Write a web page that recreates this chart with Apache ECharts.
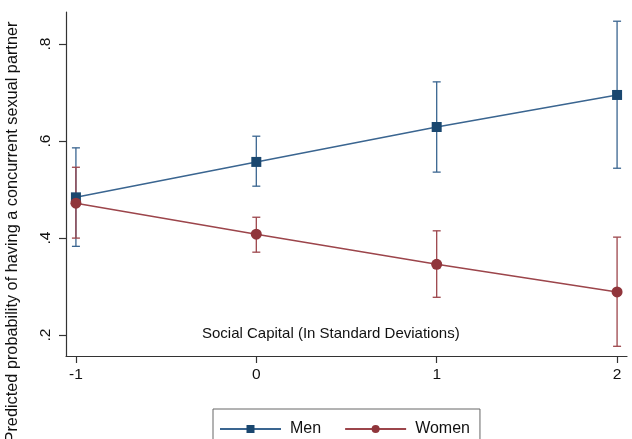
<!DOCTYPE html>
<html><head><meta charset="utf-8">
<script src="https://cdn.jsdelivr.net/npm/echarts@6/dist/echarts.min.js"></script>
<style>html,body{margin:0;padding:0;background:#fff}#c{width:632px;height:439px}</style>
</head><body><div id="c"></div>
<script>
const xValues = [-1, 0, 1, 2];
const menMean = [0.484, 0.557, 0.629, 0.695];
const menLow  = [0.383, 0.507, 0.536, 0.544];
const menHigh = [0.586, 0.610, 0.722, 0.847];
const womenMean = [0.472, 0.408, 0.346, 0.289];
const womenLow  = [0.400, 0.371, 0.278, 0.177];
const womenHigh = [0.546, 0.443, 0.415, 0.402];
const yTicks = [0.2, 0.4, 0.6, 0.8];
const xTicks = [-1, 0, 1, 2];

const NAVY = '#1a476f', NAVY_L = '#3a6590';
const MAROON = '#90353b', MAROON_L = '#9c454b';
const FONT = 'Liberation Sans, Arial, sans-serif';

function errSeries(name, low, high, color) {
  return {
    name: name, type: 'custom', silent: true, z: 2,
    data: xValues.map((x, i) => [x, low[i], high[i]]),
    renderItem: function (params, api) {
      const lo = api.coord([api.value(0), api.value(1)]);
      const hi = api.coord([api.value(0), api.value(2)]);
      const w = 4;
      const st = { stroke: color, lineWidth: 1.3 };
      return { type: 'group', children: [
        { type: 'line', shape: { x1: lo[0], y1: lo[1], x2: hi[0], y2: hi[1] }, style: st },
        { type: 'line', shape: { x1: lo[0] - w, y1: lo[1], x2: lo[0] + w, y2: lo[1] }, style: st },
        { type: 'line', shape: { x1: hi[0] - w, y1: hi[1], x2: hi[0] + w, y2: hi[1] }, style: st }
      ]};
    }
  };
}

const chart = echarts.init(document.getElementById('c'));
chart.setOption({
  backgroundColor: '#fff',
  animation: false,
  textStyle: { fontFamily: FONT },
  grid: { left: 66, right: 5, top: 12, bottom: 83, containLabel: false, outerBoundsMode: 'none' },
  xAxis: {
    type: 'value', min: -1.055, max: 2.055,
    splitLine: { show: false },
    axisLine: { onZero: false, lineStyle: { color: '#333', width: 1.2 } },
    axisTick: { show: true, length: 7, customValues: xTicks, lineStyle: { color: '#333', width: 1.2 } },
    axisLabel: { customValues: xTicks, fontSize: 15.5, color: '#111', margin: 11, fontFamily: FONT }
  },
  yAxis: {
    type: 'value', min: 0.157, max: 0.866,
    splitLine: { show: false },
    axisLine: { show: true, onZero: false, lineStyle: { color: '#333', width: 1.2 } },
    axisTick: { show: true, length: 7, customValues: yTicks, lineStyle: { color: '#333', width: 1.2 } },
    axisLabel: { customValues: yTicks, rotate: 90, fontSize: 15.5, color: '#111', margin: 12, fontFamily: FONT,
      formatter: v => String(Math.round(v * 10) / 10).replace(/^0/, '') }
  },
  legend: {
    left: 213, top: 409, width: 268,
    data: ['Men', 'Women'],
    itemWidth: 61, itemHeight: 10, itemGap: 23,
    borderColor: '#666', borderWidth: 1, backgroundColor: '#fff',
    padding: [12, 10, 12, 6],
    textStyle: { fontSize: 16, color: '#111', fontFamily: FONT, padding: [0, 0, 0, 4] }
  },
  graphic: [{
    type: 'text', left: 202, top: 326,
    style: { text: 'Social Capital (In Standard Deviations)', fontSize: 15, fill: '#111', fontFamily: FONT }
  }, {
    type: 'text', x: 13, y: 232, rotation: Math.PI / 2,
    style: { text: 'Predicted probability of having a concurrent sexual partner', fontSize: 16.3,
      fill: '#111', fontFamily: FONT, align: 'center', verticalAlign: 'middle' }
  }],
  series: [
    errSeries('MenCI', menLow, menHigh, NAVY_L),
    {
      name: 'Men', type: 'line', z: 3,
      data: xValues.map((x, i) => [x, menMean[i]]),
      symbol: 'rect', symbolSize: 10,
      itemStyle: { color: NAVY },
      lineStyle: { color: NAVY_L, width: 1.5 }
    },
    errSeries('WomenCI', womenLow, womenHigh, MAROON_L),
    {
      name: 'Women', type: 'line', z: 4,
      data: xValues.map((x, i) => [x, womenMean[i]]),
      symbol: 'circle', symbolSize: 11,
      itemStyle: { color: MAROON },
      lineStyle: { color: MAROON_L, width: 1.5 }
    }
  ]
});
</script></body></html>
